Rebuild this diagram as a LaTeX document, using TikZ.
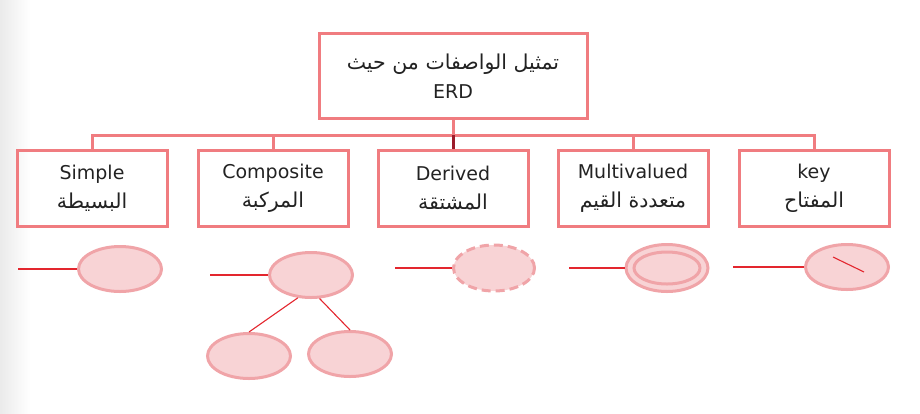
\documentclass[tikz,border=0pt]{standalone}
\usepackage{fontspec}
\setmainfont{DejaVu Sans}
\newfontfamily\arabicfont[Script=Arabic,Scale=1.08]{DejaVu Sans}
\TeXXeTstate=1
\usepackage{tikz}
\usetikzlibrary{positioning}
\usetikzlibrary{shapes.geometric}
\definecolor{boxred}{HTML}{F07C80}
\definecolor{ovalfill}{HTML}{F8D3D5}
\definecolor{ovaledge}{HTML}{F0A4A8}
\definecolor{linered}{HTML}{E3262E}
\definecolor{darkred}{HTML}{9B1B2A}
\definecolor{txt}{HTML}{222222}
\tikzset{kindbox/.style={draw=boxred,line width=3pt,minimum width=150pt,minimum height=76pt,align=center,text=txt,font=\fontsize{19}{29}\selectfont}}
\tikzset{attr/.style={ellipse,draw=ovaledge,fill=ovalfill,line width=3pt,minimum width=83pt,minimum height=45pt,inner sep=0pt}}
\tikzset{trunk/.style={draw=boxred,line width=3pt}}
\tikzset{link/.style={draw=linered,line width=1.1pt}}
\newcommand{\ar}[1]{{\arabicfont\beginR #1\endR}}

\begin{document}
\begin{tikzpicture}[x=1pt,y=-1pt]
\useasboundingbox (0,0) rectangle (920,413);
\shade[left color=black!8,right color=white] (0,0) rectangle (30,413);
% header and kinds
\node[kindbox,minimum width=268pt,minimum height=85pt] (hdr) at (453,76) {\ar{تمثيل الواصفات من حيث}\\ERD};
\node[kindbox] (simple) at (92,188) {Simple\\\ar{البسيطة}};
\node[kindbox] (comp) at (273,188) {Composite\\\ar{المركبة}};
\node[kindbox] (derived) at (453,188) {Derived\\\ar{المشتقة}};
\node[kindbox] (multi) at (633,188) {Multivalued\\\ar{متعددة القيم}};
\node[kindbox] (key) at (814,188) {key\\\ar{المفتاح}};
\coordinate (bus) at (0,135);
\draw[trunk] (hdr.south) -- (hdr.south |- bus);
\draw[trunk] (simple.north) -- (simple.north |- bus) -- (key.north |- bus) -- (key.north);
\draw[trunk] (comp.north) -- (comp.north |- bus);
\draw[trunk] (multi.north) -- (multi.north |- bus);
\draw[trunk,draw=darkred] (derived.north) -- (derived.north |- bus);
% simple
\node[attr] (s1) at (120,269) {};
\coordinate (sA) at (18,269);
\draw[link] (sA) -- (s1);
% composite
\node[attr] (c1) at (311,275) {};
\node[attr] (c2) at (249,356) {};
\node[attr] (c3) at (350,354) {};
\coordinate (cA) at (210,275);
\draw[link] (cA) -- (c1);
\draw[link] (c1.240) -- (c2.north);
\draw[link] (c1.290) -- (c3.north);
% derived
\node[attr,dash pattern=on 9pt off 5pt,minimum width=81pt,minimum height=46pt] (d1) at (494,268) {};
\coordinate (dA) at (395,268);
\draw[link] (dA) -- (d1);
% multivalued
\node[attr,minimum width=82pt,minimum height=47pt] (m1) at (667,268) {};
\node[attr,minimum width=66pt,minimum height=32pt] (m1in) at (m1) {};
\coordinate (mA) at (569,268);
\draw[link] (mA) -- (m1);
% key
\node[attr] (k1) at (847,267) {};
\coordinate (kA) at (733,267);
\draw[link] (kA) -- (k1);
\draw[link] ([shift={(-14,-10)}]k1.center) -- ([shift={(17,5)}]k1.center);
\end{tikzpicture}
\end{document}
